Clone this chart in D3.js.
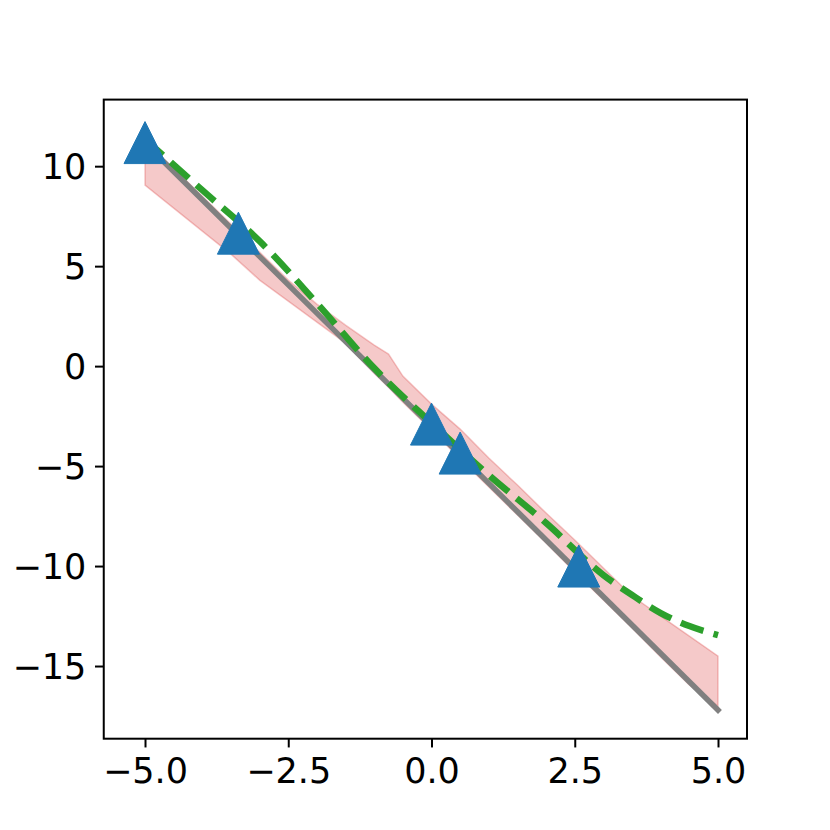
<!DOCTYPE html>
<html>
<head>
<meta charset="utf-8">
<script src="https://cdn.jsdelivr.net/npm/d3@7"></script>
<style>
  body { margin: 0; background: #fff; }
  text { font-family: "DejaVu Sans", sans-serif; }
</style>
</head>
<body>
<div id="chart"></div>
<script>
// data
const fitX = [-5, 5];
const fitY = [11.15, -17.2];

const pointX = [-5, -3.37, 0, 0.5, 2.57];
const pointY = [11.18, 6.65, -2.9, -4.35, -10.0];

const smoothX = [-5, -4, -3, -2, -1, 0, 1, 2, 3, 3.5, 4, 4.5, 5];
const smoothY = [11.35, 8.8, 6.25, 3.15, -0.1, -2.85, -5.45, -7.85, -10.45, -11.45, -12.35, -13.0, -13.45];

const bandX = [-5, -4.5, -4, -3.5, -3, -2.5, -2, -1.5, -1, -0.75, -0.5, 0, 0.5, 1, 1.5, 2, 2.5, 3, 3.5, 4, 4.5, 5];
const bandLow = [9.05, 7.9, 6.75, 5.6, 4.3, 3.25, 2.2, 1.15, -0.35, -1.05, -1.8, -3.2, -4.65, -6.05, -7.45, -8.85, -10.3, -11.7, -13.1, -14.55, -15.95, -17.0];
const bandHigh = [11.2, 9.9, 8.5, 7.1, 5.7, 4.3, 3.1, 2.05, 1.05, 0.6, -0.5, -1.9, -3.15, -4.6, -5.95, -7.35, -8.7, -10.1, -11.5, -12.5, -13.5, -14.5];

const xTicks = [-5, -2.5, 0, 2.5, 5];
const yTicks = [10, 5, 0, -5, -10, -15];

const W = 830, H = 830;
const box = {left: 103.75, right: 747, top: 99.6, bottom: 738.7};

const svg = d3.select("#chart").append("svg")
    .attr("width", W)
    .attr("height", H);

const x = d3.scaleLinear().domain([-5.72, 5.506]).range([box.left, box.right]);
const y = d3.scaleLinear().domain([13.33, -18.635]).range([box.top, box.bottom]);

const plot = svg.append("g");

// shaded band
const band = bandX.map((d, i) => ({x: d, lo: bandLow[i], hi: bandHigh[i]}));
plot.append("path")
    .datum(band)
    .attr("d", d3.area().x(d => x(d.x)).y0(d => y(d.lo)).y1(d => y(d.hi)))
    .attr("fill", "#d62728")
    .attr("fill-opacity", 0.25)
    .attr("stroke", "#d62728")
    .attr("stroke-opacity", 0.25)
    .attr("stroke-width", 1.5);

// gray straight line
plot.append("path")
    .datum(fitX.map((d, i) => [d, fitY[i]]))
    .attr("d", d3.line().x(d => x(d[0])).y(d => y(d[1])))
    .attr("fill", "none")
    .attr("stroke", "#808080")
    .attr("stroke-width", 5.5)
    .attr("stroke-linecap", "square");

// green dashed curve
plot.append("path")
    .datum(smoothX.map((d, i) => [d, smoothY[i]]))
    .attr("d", d3.line().curve(d3.curveMonotoneX).x(d => x(d[0])).y(d => y(d[1])))
    .attr("fill", "none")
    .attr("stroke", "#2ca02c")
    .attr("stroke-width", 6.5)
    .attr("stroke-dasharray", "24,10.5");

// triangle markers
const tri = 21;
plot.selectAll(".pt")
    .data(pointX.map((d, i) => [d, pointY[i]]))
    .enter().append("path")
    .attr("class", "pt")
    .attr("transform", d => "translate(" + x(d[0]) + "," + y(d[1]) + ")")
    .attr("d", "M0," + (-tri) + "L" + (-tri) + "," + tri + "L" + tri + "," + tri + "Z")
    .attr("fill", "#1f77b4")
    .attr("stroke", "#1f77b4")
    .attr("stroke-width", 1);

// axes
const xAxis = svg.append("g")
    .attr("transform", "translate(0," + box.bottom + ")")
    .call(d3.axisBottom(x).tickValues(xTicks).tickFormat(d3.format(".1f")).tickSize(8.75).tickPadding(8.75));
const yAxis = svg.append("g")
    .attr("transform", "translate(" + box.left + ",0)")
    .call(d3.axisLeft(y).tickValues(yTicks).tickFormat(d3.format("d")).tickSize(8.75).tickPadding(8.75));

[xAxis, yAxis].forEach(a => {
    a.select(".domain").remove();
    a.selectAll(".tick line").attr("stroke", "#000").attr("stroke-width", 2);
    a.selectAll(".tick text").attr("fill", "#000").style("font-size", "35px");
});
xAxis.selectAll(".tick text").attr("dy", "0.76em");
yAxis.selectAll(".tick text").attr("dy", "0.36em");

svg.append("rect")
    .attr("x", box.left)
    .attr("y", box.top)
    .attr("width", box.right - box.left)
    .attr("height", box.bottom - box.top)
    .attr("fill", "none")
    .attr("stroke", "#000")
    .attr("stroke-width", 2);
</script>
</body>
</html>
